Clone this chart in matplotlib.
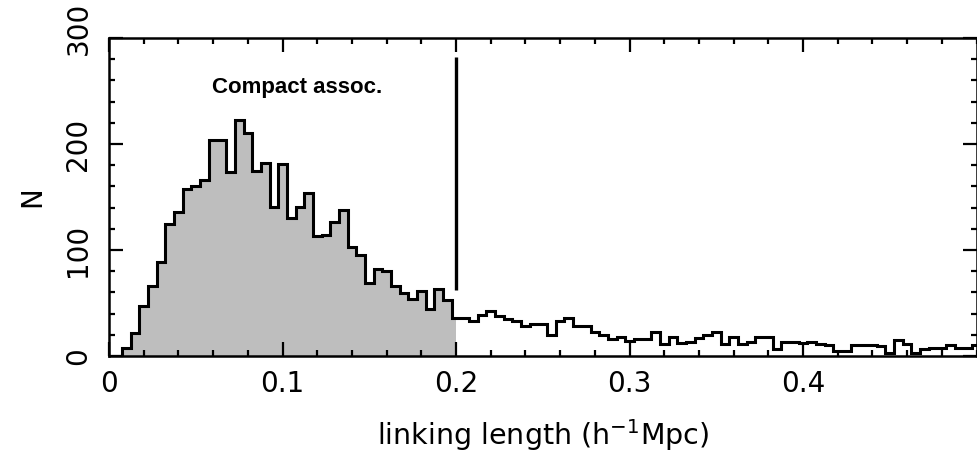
import numpy as np
import matplotlib
matplotlib.use("Agg")
import matplotlib.pyplot as plt
import matplotlib.transforms as mtransforms
from matplotlib.ticker import MultipleLocator

plt.rcParams["font.family"] = ["DejaVu Sans"]
plt.rcParams["mathtext.fontset"] = "dejavusans"

# Histogram of linking lengths: bins of width 0.005 centred on multiples of 0.005
bin_width = 0.005
counts = [
    0, 0, 8, 22, 47, 66, 89, 125, 136, 158,
    160, 166, 204, 204, 174, 223, 210, 175, 182, 141,
    181, 130, 141, 154, 113, 114, 126, 138, 103, 95,
    69, 82, 80, 66, 59, 54, 61, 44, 63, 53,
    36, 36, 33, 39, 42, 38, 35, 33, 28, 30,
    30, 20, 33, 36, 28, 28, 23, 20, 16, 18,
    14, 16, 16, 23, 11, 18, 12, 13, 17, 20,
    23, 11, 18, 11, 13, 18, 18, 7, 13, 13,
    12, 13, 11, 10, 5, 5, 10, 10, 10, 9,
    3, 15, 11, 3, 7, 8, 8, 10, 8, 8,
    10,
]
compact_cut = 0.2
cut_line = (62, 282)
x_ticks = [0.0, 0.1, 0.2, 0.3, 0.4]
x_tick_labels = ["0", "0.1", "0.2", "0.3", "0.4"]
y_ticks = [0, 100, 200, 300]

counts = np.asarray(counts, dtype=float)
centres = np.arange(len(counts)) * bin_width
edges = np.concatenate([centres - bin_width / 2, [centres[-1] + bin_width / 2]])

fig = plt.figure(figsize=(9.78, 4.62), dpi=100)
ax = fig.add_axes([0.1115, 0.2294, 0.887, 0.6883])

# shaded part: everything below the compact-association cut
n_in = np.searchsorted(edges, compact_cut)
fill_edges = np.minimum(edges[:n_in + 1], compact_cut)
ax.stairs(counts[:n_in], fill_edges, fill=True, color="#bebebe", linewidth=0)

# full histogram outline
ax.stairs(counts, edges, color="black", linewidth=2.2)

# cut marker
ax.vlines(compact_cut, cut_line[0], cut_line[1], color="black", linewidth=2.4)
ax.text(0.0595, 248, "Compact assoc.", fontsize=16, fontweight="bold",
        family="Liberation Sans", ha="left", va="baseline")

ax.set_xlim(0, 0.5)
ax.set_ylim(0, 300)
ax.set_xticks(x_ticks)
ax.set_xticklabels(x_tick_labels)
ax.set_yticks(y_ticks)
ax.xaxis.set_minor_locator(MultipleLocator(0.02))
ax.yaxis.set_minor_locator(MultipleLocator(20))

ax.tick_params(which="both", direction="in", top=True, right=True, width=1.6)
ax.tick_params(which="major", length=10, labelsize=20)
ax.tick_params(which="minor", length=4.5)
ax.tick_params(axis="x", pad=10)
ax.tick_params(axis="y", pad=12)
for lab in ax.get_yticklabels():
    lab.set_rotation(90)
    lab.set_va("center")
# keep the top y label inside the figure
top_label = ax.get_yticklabels()[-1]
top_label.set_transform(top_label.get_transform()
                        + mtransforms.ScaledTranslation(0, 10 / 100, fig.dpi_scale_trans))
for s in ax.spines.values():
    s.set_linewidth(1.8)

ax.set_xlabel("linking length (h$^{-1}$Mpc)", fontsize=20.5, labelpad=14)
ax.set_ylabel("N", fontsize=20, labelpad=13)

fig.savefig("out.png", dpi=100)
